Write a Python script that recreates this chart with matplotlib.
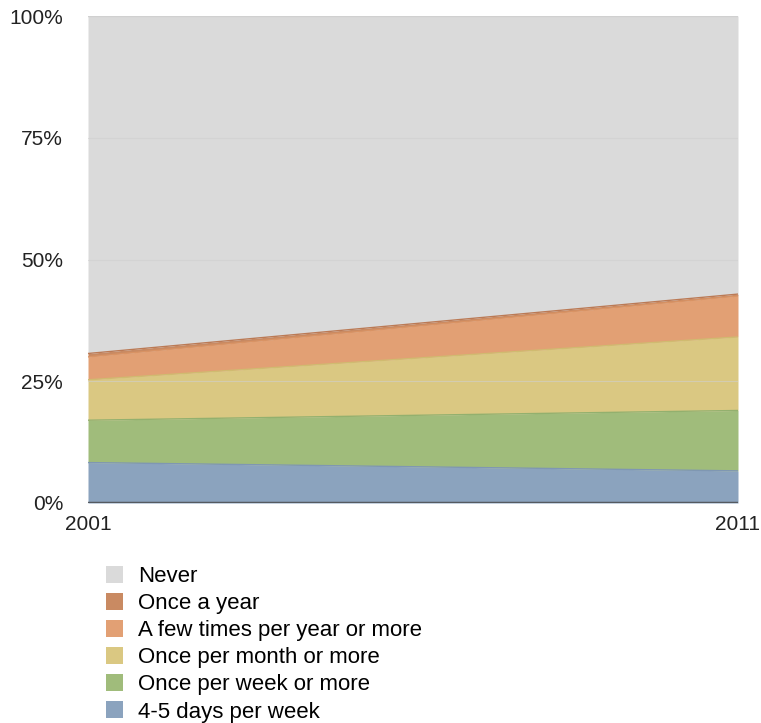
import matplotlib
matplotlib.use("Agg")
import matplotlib.pyplot as plt
from matplotlib.patches import Patch
import numpy as np

years = [2001, 2011]
# stacked from bottom to top (percent of respondents)
days_4_5 = [8.3, 6.6]
once_per_week = [8.7, 12.4]
once_per_month = [8.3, 15.1]
few_times_year = [4.7, 8.4]
once_a_year = [0.7, 0.4]
never = [69.3, 57.1]

labels = ["4-5 days per week", "Once per week or more", "Once per month or more",
          "A few times per year or more", "Once a year", "Never"]
colors = ["#8ba3be", "#a0bc7b", "#dac882", "#e2a074", "#c98a62", "#dadada"]
edge_colors = ["#7f97b2", "#93b06e", "#d0bb70", "#d99364", "#bb7a55", "#d0d0d0"]
series = [days_4_5, once_per_week, once_per_month, few_times_year, once_a_year, never]

plt.rcParams['font.family'] = ['Liberation Sans', 'DejaVu Sans']

fig = plt.figure(figsize=(7.61, 7.23), dpi=100)
ax = fig.add_axes([88/761, 1-503/723, 650/761, 487/723])

base = np.zeros(len(years))
for vals, c, ec in zip(series, colors, edge_colors):
    top = base + np.array(vals)
    ax.fill_between(years, base, top, color=c, linewidth=0, zorder=1)
    ax.plot(years, top, color=ec, linewidth=1.0, zorder=2)
    base = top

for g in [25, 50, 75]:
    ax.axhline(g, color="#cfcfcf", linewidth=0.8, zorder=1.5, alpha=0.6)

ax.axhline(0, color="#555a60", linewidth=2.5, zorder=3)

ax.set_xlim(years[0], years[-1])
ax.set_ylim(0, 100)
ax.set_yticks([0, 25, 50, 75, 100])
ax.set_yticklabels(["0%", "25%", "50%", "75%", "100%"])
ax.set_xticks(years)
ax.set_xticklabels([str(y) for y in years])
ax.tick_params(length=0, labelsize=15, colors="#222222")
ax.tick_params(axis="y", pad=18)
ax.tick_params(axis="x", pad=9)
for s in ax.spines.values():
    s.set_visible(False)

handles = [Patch(facecolor=c, edgecolor="none") for c in colors[::-1]]
fig.legend(handles, labels[::-1], loc="upper left",
           bbox_to_anchor=(106/761, 1-566/723), frameon=False,
           fontsize=16, handlelength=0.78, handleheight=0.78,
           handletextpad=0.65, labelspacing=0.27, borderaxespad=0,
           borderpad=0)

fig.savefig("out.png", dpi=100)
